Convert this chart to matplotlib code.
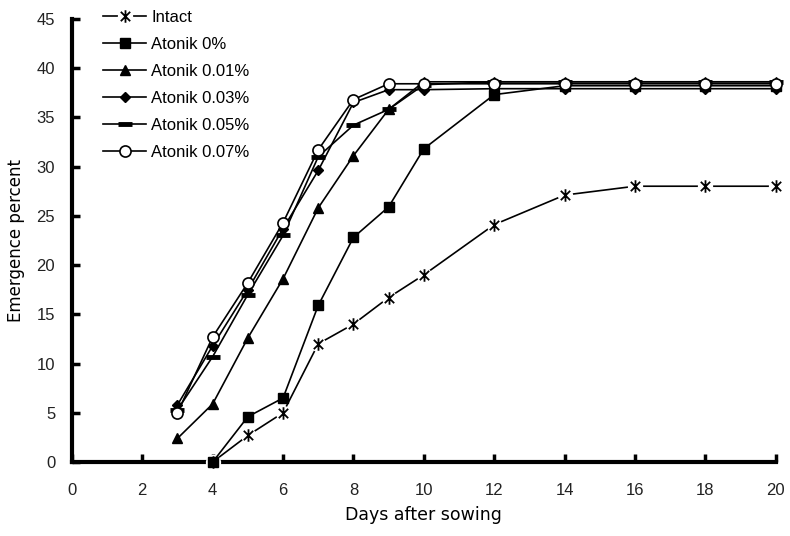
import numpy as np
import matplotlib.pyplot as plt
from matplotlib.path import Path
from matplotlib.legend_handler import HandlerTuple

days_intact = [4, 5, 6, 7, 8, 9, 10, 12, 14, 16, 18, 20]
intact = [0, 2.7, 5.0, 12.0, 14.0, 16.7, 19.0, 24.1, 27.1, 28.0, 28.0, 28.0]

days_0 = [4, 5, 6, 7, 8, 9, 10, 12, 14, 16, 18, 20]
atonik_0 = [0, 4.6, 6.5, 15.9, 22.8, 25.9, 31.8, 37.3, 38.2, 38.2, 38.2, 38.2]

days = [3, 4, 5, 6, 7, 8, 9, 10, 12, 14, 16, 18, 20]
atonik_001 = [2.4, 5.9, 12.6, 18.6, 25.8, 31.1, 35.8, 38.6, 38.6, 38.6, 38.6, 38.6, 38.6]
atonik_003 = [5.8, 11.8, 17.5, 23.7, 29.6, 36.5, 37.8, 37.8, 37.9, 37.9, 37.9, 37.9, 37.9]
atonik_005 = [5.3, 10.7, 17.0, 23.0, 31.0, 34.2, 35.8, 38.3, 38.6, 38.6, 38.6, 38.6, 38.6]
atonik_007 = [5.0, 12.7, 18.2, 24.3, 31.7, 36.8, 38.4, 38.4, 38.4, 38.4, 38.4, 38.4, 38.4]

xticks = list(range(0, 21, 2))
yticks = list(range(0, 46, 5))

tick_font = 'Liberation Sans'
label_font = 'DejaVu Sans'

# X with a vertical bar, like the Excel asterisk marker
star = Path([(0, -1), (0, 1), (-0.75, -0.75), (0.75, 0.75), (-0.75, 0.75), (0.75, -0.75)],
            [Path.MOVETO, Path.LINETO] * 3)

fig = plt.figure(figsize=(7.9, 5.36), dpi=100)
ax = fig.add_axes([0.091, 0.138, 0.891, 0.827])

# Intact: line with gaps around the asterisk markers
l_int, = ax.plot(days_intact, intact, color='black', lw=1.2, zorder=2)
w_int, = ax.plot(days_intact, intact, ls='none', marker='o', ms=11, mfc='white',
                 mec='none', zorder=3, clip_on=False)
s_int, = ax.plot(days_intact, intact, ls='none', marker=star, ms=9, mec='black',
                 mew=1.3, zorder=4, clip_on=False)

h0, = ax.plot(days_0, atonik_0, color='black', lw=1.2, marker='s', ms=7,
              mfc='black', mec='black', zorder=5, clip_on=False)
h1, = ax.plot(days, atonik_001, color='black', lw=1.2, marker='^', ms=7.5,
              mfc='black', mec='black', zorder=5, clip_on=False)
h3, = ax.plot(days, atonik_003, color='black', lw=1.2, marker='D', ms=5.5,
              mfc='black', mec='black', zorder=5, clip_on=False)
h5, = ax.plot(days, atonik_005, color='black', lw=1.2, marker='_', ms=10,
              mew=3.5, mec='black', zorder=5, clip_on=False)
h7, = ax.plot(days, atonik_007, color='black', lw=1.2, marker='o', ms=8,
              mfc='white', mec='black', mew=1.2, zorder=6, clip_on=False)

ax.set_xlim(0, 20)
ax.set_ylim(0, 45)
ax.set_xticks(xticks)
ax.set_yticks(yticks)

for s in ['top', 'right']:
    ax.spines[s].set_visible(False)
for s in ['left', 'bottom']:
    ax.spines[s].set_linewidth(3)
ax.tick_params(direction='in', length=6, width=2.5, labelsize=12)
ax.tick_params(axis='x', pad=15)
ax.tick_params(axis='y', pad=12)
for lab in ax.get_xticklabels() + ax.get_yticklabels():
    lab.set_fontfamily(tick_font)
    lab.set_color('#222222')

ax.set_xlabel('Days after sowing', family=label_font, fontsize=12.5, labelpad=6)
ax.set_ylabel('Emergence percent', family=label_font, fontsize=12, labelpad=8)

handles = [(l_int, w_int, s_int), h0, h1, h3, h5, h7]
labels = ['Intact', 'Atonik 0%', 'Atonik 0.01%', 'Atonik 0.03%',
          'Atonik 0.05%', 'Atonik 0.07%']
fig.legend(handles, labels, loc='upper left', bbox_to_anchor=(103 / 790, 1 - 10 / 536),
           frameon=False, numpoints=1, handlelength=2.6, handletextpad=0.3,
           labelspacing=0.72, borderpad=0, borderaxespad=0,
           prop={'family': tick_font, 'size': 12},
           handler_map={tuple: HandlerTuple(ndivide=1)})

fig.savefig('out.png', dpi=100)
